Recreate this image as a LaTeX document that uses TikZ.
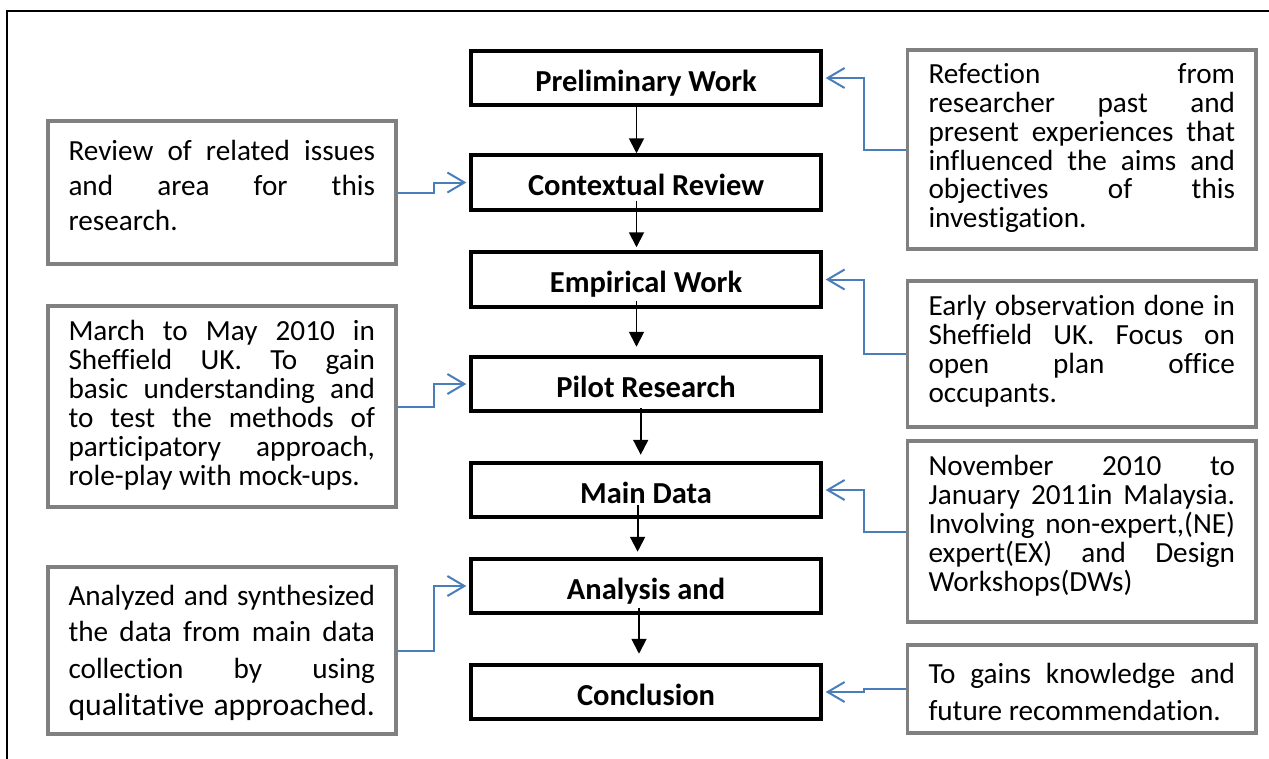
\documentclass[tikz,border=0pt]{standalone}
\usepackage{fontspec}
\setmainfont{Carlito}[Ligatures=NoCommon]
\usetikzlibrary{arrows.meta}
\definecolor{conn}{RGB}{74,126,187}
\definecolor{boxgray}{RGB}{128,128,128}
\newcommand\jl[1]{\makebox[306.5pt][s]{#1}}
\newcommand\lastl[1]{\makebox[306.5pt][l]{#1}}
\newcommand\bodytext[2]{\parbox[t]{306.5pt}{\lineskiplimit=-50pt\fontsize{29.2pt}{#1}\selectfont #2}}
\begin{document}
\begin{tikzpicture}[x=1pt,y=-1pt,
  stage/.style={draw=black, line width=4pt, minimum width=349.3pt, minimum height=54.5pt, inner sep=0pt, text height=30pt, text depth=4pt, font=\fontsize{30.5pt}{36pt}\selectfont\bfseries},
  note/.style={draw=boxgray, line width=3.8pt, minimum width=348.2pt, inner sep=0pt},
  notetext/.style={anchor=base west, inner sep=0pt},
  flow/.style={line width=1.9pt, -{Triangle[length=15pt,width=15pt]}},
  link/.style={draw=conn, line width=2pt, -{Straight Barb[length=17pt,width=20pt]}, shorten >=3pt},
]
\useasboundingbox (0,0) rectangle (1269,758);
\coordinate (fbl) at (7,760);
\coordinate (ftl) at (7,11);
\coordinate (ftr) at (1271,11);
\draw[line width=2pt] (fbl) -- (ftl) -- (ftr);

% main stages
\node[stage] (pw) at (646,78) {Preliminary Work};
\node[stage] (cr) at (646,182.5) {Contextual Review};
\node[stage] (ew) at (646,279.5) {Empirical Work};
\node[stage] (pr) at (646,384) {Pilot Research};
\node[stage] (md) at (646,490) {Main Data};
\node[stage] (aa) at (646,586) {Analysis and};
\node[stage] (co) at (646,692) {Conclusion};

% flow arrows
\draw[flow] ([xshift=-9.5pt]pw.south) -- ([xshift=-9.5pt]cr.north);
\draw[flow] ([xshift=-9.5pt,yshift=11pt]cr.south) -- ([xshift=-9.5pt,yshift=3pt]ew.north);
\draw[flow] ([xshift=-9.5pt,yshift=8pt]ew.south) -- ([xshift=-9.5pt,yshift=8pt]pr.north);
\draw[flow] ([xshift=-5.3pt,yshift=5pt]pr.south) -- ([xshift=-5.3pt,yshift=6pt]md.north);
\draw[flow] ([xshift=-8.4pt,yshift=14pt]md.south) -- ([xshift=-8.4pt,yshift=5pt]aa.north);
\draw[flow] ([xshift=-7pt,yshift=7pt]aa.south) -- ([xshift=-7pt,yshift=9pt]co.north);

% note boxes
\node[note, minimum height=143.2pt] (n1) at (222,192.5) {};
\node[note, minimum height=201.2pt] (n2) at (222,406.5) {};
\node[note, minimum height=167.2pt] (n3) at (222,650.5) {};
\node[note, minimum height=199.2pt] (n4) at (1081.6,149.5) {};
\node[note, minimum height=146.2pt] (n5) at (1081.6,354) {};
\node[note, minimum height=181.2pt] (n6) at (1081.6,531.5) {};
\node[note, minimum height=88.2pt] (n7) at (1081.6,689) {};

% note texts
\node[notetext] (t1) at (68.3,160) {\bodytext{35pt}{\jl{Review of related issues}\\\jl{and area for this}\\\lastl{research.}}};
\node[notetext] (t2) at (68.3,340) {\bodytext{29pt}{\jl{March to May 2010 in}\\\jl{Sheffield UK. To gain}\\\jl{basic understanding and}\\\jl{to test the methods of}\\\jl{participatory approach,}\\\lastl{role-play with mock-ups.}}};
\node[notetext] (t3) at (68.3,605) {\parbox[t]{306.5pt}{\lineskiplimit=-50pt\fontsize{29.2pt}{36.7pt}\selectfont\jl{Analyzed and synthesized}\\\jl{the data from main data}\\\jl{collection by using}\\\fontsize{31.7pt}{36.7pt}\selectfont\jl{qualitative approached.}}};
\node[notetext] (t4) at (928.3,83.3) {\bodytext{28.9pt}{\jl{Refection from}\\\jl{researcher past and}\\\jl{present experiences that}\\\jl{influenced the aims and}\\\jl{objectives of this}\\\lastl{investigation.}}};
\node[notetext] (t5) at (928.3,315) {\bodytext{29pt}{\jl{Early observation done in}\\\jl{Sheffield UK. Focus on}\\\jl{open plan office}\\\lastl{occupants.}}};
\node[notetext] (t6) at (928.3,475) {\bodytext{29.2pt}{\jl{November 2010 to}\\\jl{January 2011in Malaysia.}\\\jl{Involving non-expert,(NE)}\\\jl{expert(EX) and Design}\\\lastl{Workshops(DWs)}}};
\node[notetext] (t7) at (928.3,683.3) {\bodytext{36.7pt}{\jl{To gains knowledge and}\\\lastl{future recommendation.}}};

% connectors
\draw[link] (n4.west) -- ++(-41.5,0) |- (pw.east);
\draw[link] (n1.east) -- ++(36.3,0) |- (cr.west);
\draw[link] (n5.west) -- ++(-42,0) |- (ew.east);
\draw[link] (n2.east) -- ++(36.3,0) |- (pr.west);
\draw[link] (n6.west) -- ++(-42,0) |- (md.east);
\draw[link] (n3.east) -- ++(36.3,0) |- (aa.west);
\draw[link] (n7.west) -- ++(-41.5,0) |- (co.east);
\end{tikzpicture}
\end{document}
